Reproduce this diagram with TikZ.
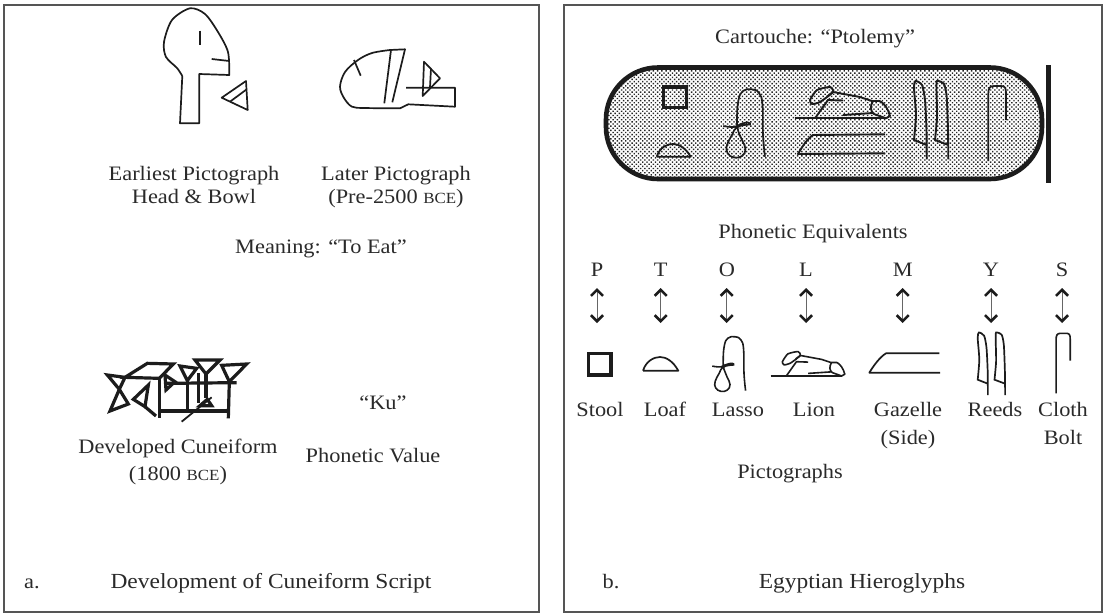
\documentclass[tikz,border=0pt]{standalone}
\usepackage{fontspec}
\setmainfont[FakeStretch=1.09]{Liberation Serif}
\usetikzlibrary{arrows.meta,patterns.meta}
\definecolor{ink}{HTML}{1C1C1C}
\definecolor{txt}{HTML}{2A2A2A}
\definecolor{framec}{HTML}{555555}
\newcommand{\bceword}{{\fontsize{15.5}{15.5}\selectfont BCE}}
\newcommand{\lassoglyph}[1]{\draw[line width=#1] plot[smooth,tension=0.75] coordinates {(765,156.7)(763,135)(762.5,105)(759,93)(751.7,89.3)(743,91)(738.5,100)(737,118)(738,130)(742,140)(745.5,149)(742,156)(734,157.5)(727.5,153)(727,145)(732,135)(736,128)(744,125)(750,124.5)(748,122.5)(741,124)(734,127)(723.3,126)};}
\newcommand{\reedsglyph}[1]{\draw[line width=#1] plot[smooth,tension=0.4] coordinates {(926.7,159.3)(926.5,130)(925,100)(922,85)(915.5,81)(914,88)(916,115)(914,140)} -- (926.7,145);
 \draw[line width=#1] plot[smooth,tension=0.4] coordinates {(948.3,159.3)(948,130)(946.7,97)(944,84)(937,81)(936.5,90)(937,117)(935,140)} -- (948.3,145);}
\newcommand{\clothglyph}[1]{\draw[line width=#1] (988.3,161) -- (988.3,94) .. controls (988.3,88) and (990,86) .. (994,86) -- (1001,86) .. controls (1005,86) and (1006,88) .. (1006,93) -- (1006,120);}
\newcommand{\lionglyph}[1]{\draw[line width=#1,line join=round] plot[smooth cycle,tension=0.35] coordinates {(810,100)(817,90)(830,87)(833,92)(820,102)(812,104)};
 \draw[line width=#1] (815,118.3) -- (828,100) -- (843,100.5);
 \draw[line width=#1] (827,96.5) -- (833,92) -- (860,97) -- (872,101) -- (880,101);
 \draw[line width=#1,line join=round] (795,118.3) -- (886,118.3);
 \draw[line width=#1,line join=round] (873,101) .. controls (870,106) and (870,111) .. (874,114) -- (886,118.3) -- (890,116) .. controls (888,109) and (885,104) .. (880,101);
 \draw[line width=#1] (843,115) -- (873,113);}
\tikzset{
 lbl/.style={anchor=base,inner sep=0pt,text=txt,font=\fontsize{20.5}{24}\selectfont},
 biglbl/.style={lbl,font=\fontsize{21.5}{24}\selectfont},
 framebox/.style={draw=framec,line width=1.6pt},
 thin glyph/.style={draw=ink,line width=1.7pt,line join=round},
 wedge/.style={draw=ink,line width=3.2pt,line join=miter},
 dbl/.style={draw=black!60,line width=1pt,{Straight Barb[length=6pt,width=12pt,line width=2.6pt,color=ink]}-{Straight Barb[length=6pt,width=12pt,line width=2.6pt,color=ink]}}
}
\begin{document}
\begin{tikzpicture}[x=1pt,y=-1pt]
\useasboundingbox (0,0) rectangle (1104,614);
\fill[white] (0,0) rectangle (1104,614);
% frames
\draw[framebox] (4,5) rectangle (539,612);
\draw[framebox] (564,5) rectangle (1102,612);
% ---- panel a glyphs
\begin{scope}[thin glyph]
\draw plot[smooth,tension=0.5] coordinates {(182.3,76)(177,68)(166,57)(164,42)(172,20)(190,8.3)(205,14)(218,32)(228,52)(229.3,75)} -- (199.3,74) -- (199.3,123.3) -- (180,123.3) -- (182.3,76);
\draw (200,30.7) -- (200,45);
\draw (211.7,59) -- (229.3,61);
\draw (221.7,97.7) -- (246,81) -- (247.7,110) -- cycle;
\draw (230,101.7) -- (246.7,89.3);
\draw plot[smooth,tension=0.55] coordinates {(390,50)(372,53)(358,60)(345,72)(340,86.7)(344,98)(352,106.7)(365,108)(400,108.3)} -- (408.3,104.3) -- (455,106.7) -- (455,87.7) -- (406,87.7);
\draw (390,50) -- (405,49.3) -- (392.3,102.3);
\draw (354,60) -- (360.7,75.7);
\draw (391,50) -- (384.3,103.3);
\draw (424,61.7) -- (440,78.3) -- (422.7,96) -- cycle;
\draw (431,68.3) -- (430,87.3);
\end{scope}
% cuneiform (zoom coordinates: x=100+X/3, y=340+Y/3)
\begin{scope}[shift={(100,340)},x=0.3333pt,y=-0.3333pt,wedge]
\draw (22,105) -- (75,112) -- (58,148) -- cycle;
\draw (58,148) -- (85,192) -- (30,213) -- (58,148);
\draw (75,112) -- (142,70) -- (220,72) -- (178,115) -- cycle;
\draw (178,115) -- (178,235);
\draw (100,178) -- (145,135) -- (135,200) -- cycle;
\draw (135,200) -- (168,228);
\draw (195,105) -- (225,125) -- (198,150) -- cycle;
\draw (240,78) -- (290,85) -- (262,122) -- cycle;
\draw (262,122) -- (262,210);
\draw (285,60) -- (360,60) -- (318,102) -- cycle;
\draw (318,102) -- (318,175);
\draw (295,100) -- (295,188);
\draw (365,76) -- (440,72) -- (388,125) -- cycle;
\draw (388,125) -- (385,235);
\draw (200,130) -- (410,128);
\draw (178,213) -- (385,213);
\draw[line width=1.8pt] (245,245) -- (335,172);
\draw (300,197) -- (322,178) -- (335,197) -- cycle;
\end{scope}
% panel a text
\node[lbl] (t1) at (194,180) {Earliest Pictograph};
\node[lbl] (t2) at (194,203) {Head \& Bowl};
\node[lbl] (t3) at (396,180) {Later Pictograph};
\node[lbl] (t4) at (396,203) {(Pre-2500 \bceword)};
\node[lbl] (t5) at (321,253) {Meaning: “To Eat”};
\node[lbl] (t6) at (178,453) {Developed Cuneiform};
\node[lbl] (t7) at (178,480) {(1800 \bceword)};
\node[lbl] (t8) at (383,409) {“Ku”};
\node[lbl] (t9) at (373,462) {Phonetic Value};
\node[lbl] (t10) at (32,588) {a.};
\node[biglbl] (t11) at (271,588) {Development of Cuneiform Script};
% ---- panel b cartouche
\path[pattern={Dots[distance=3pt,radius=1pt,angle=45]},pattern color=black!85,rounded corners=52pt] (606,67.5) rectangle (1042,179);
\draw[draw=ink,line width=4.6pt,rounded corners=52pt] (606,67.5) rectangle (1042,179);
\draw[draw=ink,line width=5pt] (1048,65) -- (1048,183);
\draw[draw=ink,line width=3.8pt] (663.5,87) rectangle (686.5,107.5);
\draw[thin glyph,line width=1.8pt] (656.7,156.7) -- (690.7,156.7) .. controls (685,147) and (678,144) .. (673,144) .. controls (667,144) and (660,147) .. (656.7,156.7);
\begin{scope}[draw=ink]
\lassoglyph{1.7pt}
\lionglyph{1.9pt}
\reedsglyph{1.9pt}
\clothglyph{1.7pt}
\draw[thin glyph,line width=1.9pt] (885,134.3) -- (813,135) .. controls (807,139) and (802,147) .. (798,154) -- (885,153.3);
\end{scope}
% panel b text
\node[lbl] (c1) at (815,43) {Cartouche: “Ptolemy”};
\node[lbl] (c2) at (813,238) {Phonetic Equivalents};
\node[lbl] (lp) at (597,276) {P};
\node[lbl] (lt) at (660.7,276) {T};
\node[lbl] (lo) at (727,276) {O};
\node[lbl] (ll) at (806,276) {L};
\node[lbl] (lm) at (902.7,276) {M};
\node[lbl] (ly) at (991,276) {Y};
\node[lbl] (ls) at (1062,276) {S};
\foreach \n/\x in {p/597,t/660.7,o/726.7,l/806,m/902.7,y/991,s/1062}{
 \coordinate (up\n) at (\x,288);
 \coordinate (dn\n) at (\x,323);
 \draw[dbl] (up\n) -- (dn\n);
}
% lower glyphs
\draw[draw=ink,line width=3.8pt] (588.5,353.5) rectangle (610.9,374.9);
\draw[thin glyph,line width=1.7pt] (643,370.7) -- (678.3,370.7) .. controls (673,361) and (666,357) .. (660,357) .. controls (654,357) and (646,361) .. (643,370.7);
\begin{scope}[shift={(133.6,265.3)},scale=0.8,draw=ink]
\lassoglyph{1.6pt}
\end{scope}
\begin{scope}[shift={(150.6,283.7)},scale=0.78,draw=ink]
\lionglyph{1.6pt}
\end{scope}
\draw[thin glyph,line width=1.7pt] (939.3,353.3) -- (886,353.3) .. controls (880,357) and (874,365) .. (869.3,372.7) -- (940,372.7);
\begin{scope}[shift={(246.5,267.7)},scale=0.8,draw=ink]
\reedsglyph{1.7pt}
\end{scope}
\begin{scope}[shift={(265.4,264.5)},scale=0.8,draw=ink]
\clothglyph{1.6pt}
\end{scope}
\node[lbl] (g1) at (600,416) {Stool};
\node[lbl] (g2) at (665,416) {Loaf};
\node[lbl] (g3) at (738,416) {Lasso};
\node[lbl] (g4) at (814,416) {Lion};
\node[lbl] (g5) at (908,416) {Gazelle};
\node[lbl] (g6) at (908,444) {(Side)};
\node[lbl] (g7) at (995,416) {Reeds};
\node[lbl] (g8) at (1063,416) {Cloth};
\node[lbl] (g9) at (1063,444) {Bolt};
\node[lbl] (g10) at (790,478) {Pictographs};
\node[lbl] (b1) at (611,588) {b.};
\node[biglbl] (b2) at (862,588) {Egyptian Hieroglyphs};
\end{tikzpicture}
\end{document}
